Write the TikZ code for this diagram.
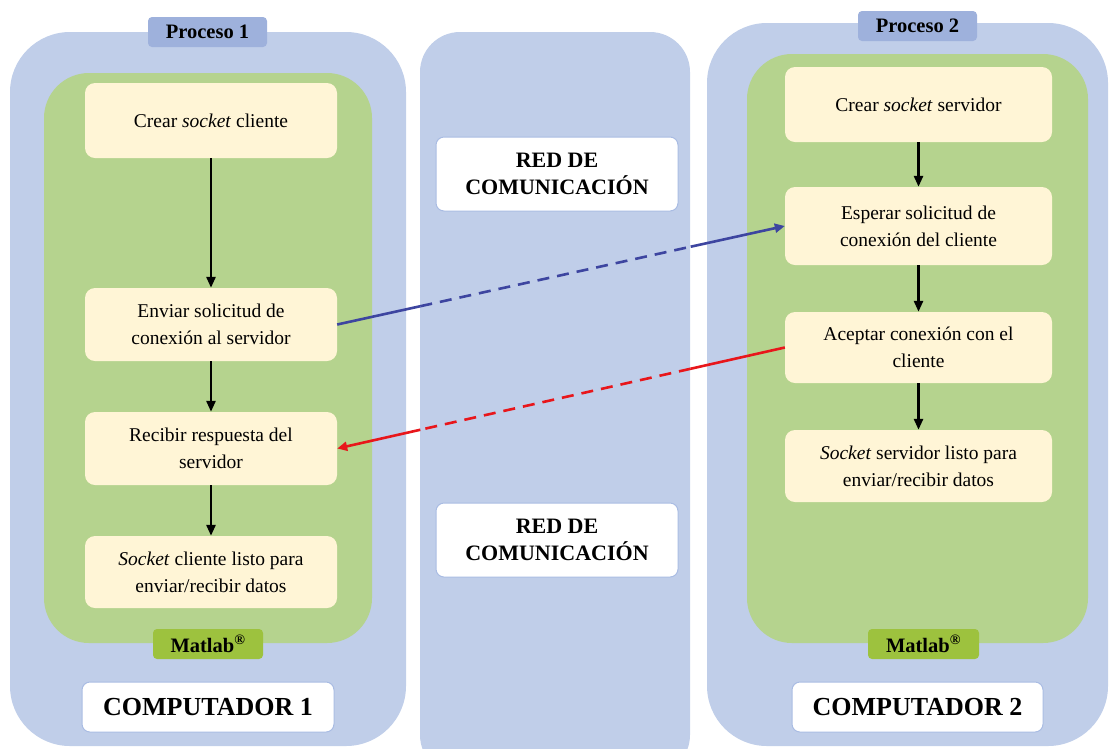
\documentclass[tikz,border=0pt]{standalone}
\usepackage{fontspec}
\setmainfont{Liberation Serif}
\usetikzlibrary{arrows.meta,calc}
\definecolor{pcblue}{HTML}{C0CEE9}
\definecolor{tagblue}{HTML}{9EB1DC}
\definecolor{edgeblue}{HTML}{A9BCE3}
\definecolor{appgreen}{HTML}{B5D38E}
\definecolor{taggreen}{HTML}{9DC23E}
\definecolor{stepfill}{HTML}{FFF5D6}
\definecolor{reqblue}{HTML}{3D45A0}
\definecolor{respred}{HTML}{E8161B}
\tikzset{
  stepbox/.style={fill=stepfill, rounded corners=10pt, align=center,
    font=\fontsize{19.5}{27}\selectfont, inner sep=2pt},
  tagbox/.style={rounded corners=4pt, minimum height=30pt, inner sep=2pt,
    font=\fontsize{20.5}{22}\selectfont\bfseries},
  labelbox/.style={fill=white, draw=edgeblue, line width=1pt, rounded corners=8pt,
    align=center, inner sep=2pt},
  flow/.style={line width=2.6pt, -{Triangle[length=11pt,width=9pt]}},
  msg/.style={line width=2.6pt},
  msgdash/.style={line width=2.6pt, dash pattern=on 12pt off 8pt},
}
\begin{document}
\begin{tikzpicture}[x=1pt,y=-1pt]
\useasboundingbox (0,0) rectangle (1110,748);

% computer and network columns
\fill[pcblue, rounded corners=60pt] (10,32) rectangle (406,746);
\fill[pcblue, rounded corners=40pt] (420,32) rectangle (690,775);
\fill[pcblue, rounded corners=60pt] (707,23) rectangle (1108,746);

% Matlab application areas
\fill[appgreen, rounded corners=45pt] (44,73) rectangle (372,643);
\fill[appgreen, rounded corners=45pt] (747,54) rectangle (1088,643);

% tags
\node[tagbox, fill=tagblue, minimum width=119pt] (p1) at (207.5,32) {Proceso 1};
\node[tagbox, fill=tagblue, minimum width=119pt] (p2) at (917.5,26) {Proceso 2};
\node[tagbox, fill=taggreen, minimum width=110pt] (m1) at (208,644) {Matlab\textsuperscript{®}};
\node[tagbox, fill=taggreen, minimum width=111pt] (m2) at (923.5,644) {Matlab\textsuperscript{®}};

% computer names
\node[labelbox, minimum width=252pt, minimum height=50pt,
      font=\fontsize{26}{28}\selectfont\bfseries] (c1) at (208,707) {COMPUTADOR 1};
\node[labelbox, minimum width=251pt, minimum height=50pt,
      font=\fontsize{26}{28}\selectfont\bfseries] (c2) at (917.5,707) {COMPUTADOR 2};

% network labels
\node[labelbox, minimum width=242pt, minimum height=74pt,
      font=\fontsize{22}{27}\selectfont\bfseries] (r1) at (557,174) {RED DE\\COMUNICACIÓN};
\node[labelbox, minimum width=242pt, minimum height=74pt,
      font=\fontsize{22}{27}\selectfont\bfseries] (r2) at (557,540) {RED DE\\COMUNICACIÓN};

% client steps
\node[stepbox, minimum width=252pt, minimum height=75pt] (a1) at (211,120.5) {Crear \textit{socket} cliente};
\node[stepbox, minimum width=252pt, minimum height=73pt] (a2) at (211,324.5) {Enviar solicitud de\\conexión al servidor};
\node[stepbox, minimum width=252pt, minimum height=73pt] (a3) at (211,448.5) {Recibir respuesta del\\servidor};
\node[stepbox, minimum width=252pt, minimum height=72pt] (a4) at (211,572) {\textit{Socket} cliente listo para\\enviar/recibir datos};

% server steps
\node[stepbox, minimum width=267pt, minimum height=75pt] (b1) at (918.5,104.5) {Crear \textit{socket} servidor};
\node[stepbox, minimum width=267pt, minimum height=78pt] (b2) at (918.5,226) {Esperar solicitud de\\conexión del cliente};
\node[stepbox, minimum width=267pt, minimum height=71pt] (b3) at (918.5,347.5) {Aceptar conexión con el\\cliente};
\node[stepbox, minimum width=267pt, minimum height=72pt] (b4) at (918.5,466) {\textit{Socket} servidor listo para\\enviar/recibir datos};

% sequence inside each process
\draw[flow] (a1) -- (a2);
\draw[flow] (a2) -- (a3);
\draw[flow] (a3) -- (a4);
\draw[flow] (b1) -- (b2);
\draw[flow] (b2) -- (b3);
\draw[flow] (b3) -- (b4);

% connection request: dashed while crossing the network
\coordinate (rq1) at ($(a2.east)!0.1857!(b2.west)$);
\coordinate (rq2) at ($(a2.east)!0.7897!(b2.west)$);
\draw[msg, reqblue] (a2.east) -- (rq1);
\draw[msgdash, reqblue] (rq1) -- (rq2);
\draw[msg, reqblue, -{Triangle[length=10pt,width=9pt]}] (rq2) -- (b2.west);

% answer to the client
\coordinate (rs1) at ($(b3.west)!0.2103!(a3.east)$);
\coordinate (rs2) at ($(b3.west)!0.8143!(a3.east)$);
\draw[msg, respred] (b3.west) -- (rs1);
\draw[msgdash, respred] (rs1) -- (rs2);
\draw[msg, respred, -{Triangle[length=10pt,width=9pt]}] (rs2) -- (a3.east);
\end{tikzpicture}
\end{document}
